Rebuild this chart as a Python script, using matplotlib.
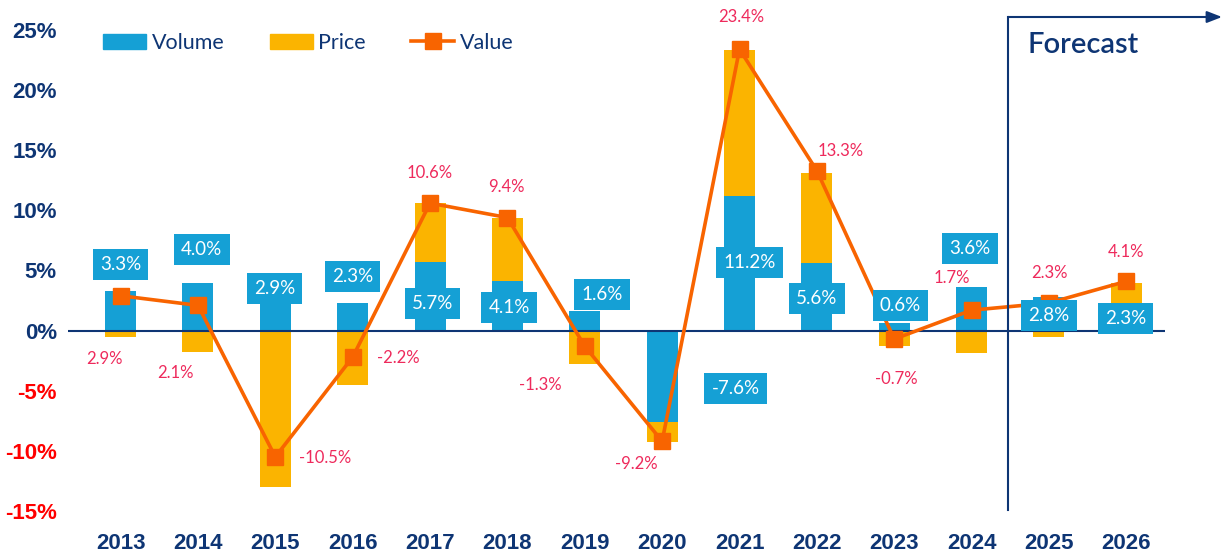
import matplotlib
matplotlib.use("Agg")
import matplotlib.pyplot as plt
from matplotlib.patches import Patch
from matplotlib.lines import Line2D
import numpy as np

years = ["2013", "2014", "2015", "2016", "2017", "2018", "2019",
         "2020", "2021", "2022", "2023", "2024", "2025", "2026"]
volume = [3.3, 4.0, 2.9, 2.3, 5.7, 4.1, 1.6, -7.6, 11.2, 5.6, 0.6, 3.6, 2.8, 2.3]
price = [-0.5, -1.8, -13.0, -4.5, 4.9, 5.3, -2.8, -1.7, 12.1, 7.5, -1.3, -1.9, -0.5, 1.7]
value = [2.9, 2.1, -10.5, -2.2, 10.6, 9.4, -1.3, -9.2, 23.4, 13.3, -0.7, 1.7, 2.3, 4.1]
yticks = [-15, -10, -5, 0, 5, 10, 15, 20, 25]

# label placement (data units), layout only
val_lab_pos = [(-0.21, -2.4), (0.71, -3.55), (2.65, -10.6), (3.59, -2.3), (3.99, 13.1),
               (4.99, 11.95), (5.42, -4.55), (6.67, -11.1), (8.02, 26.1), (9.31, 14.95),
               (10.03, -4.05), (10.74, 4.4), (12.0, 4.8), (13.0, 6.55)]
vol_lab_pos = [(0, 5.48), (1.05, 6.73), (1.99, 3.49), (3.0, 4.49), (4.03, 2.24),
               (5.02, 1.91), (6.22, 2.99), (7.95, -4.82), (8.13, 5.65), (9.0, 2.66),
               (10.08, 2.08), (10.98, 6.81), (12.0, 1.25), (12.99, 1.0)]

blue = "#15A0D5"
yellow = "#FBB400"
orange = "#F86400"
crimson = "#EE2A5C"
navy = "#0E3574"

plt.rcParams["font.family"] = ["Lato", "DejaVu Sans"]

fig = plt.figure(figsize=(12.22, 5.54), dpi=100)
ax = fig.add_axes([68 / 1222, 1 - 511 / 554, (1165 - 68) / 1222, (511 - 30) / 554])

x = np.arange(len(years))
w = 0.4
vol = np.array(volume)
pr = np.array(price)
bottom = np.where(np.sign(pr) == np.sign(vol), vol, 0)

ax.bar(x, vol, w, color=blue, zorder=2)
ax.bar(x, pr, w, bottom=bottom, color=yellow, zorder=2)
ax.axhline(0, color=navy, lw=1.5, zorder=3)
ax.plot(x, value, color=orange, lw=2.6, marker="s", markersize=12, zorder=4)

for i in range(len(years)):
    vx, vy = val_lab_pos[i]
    ax.text(vx, vy, f"{value[i]:.1f}%", color=crimson, fontsize=12,
            ha="center", va="center", zorder=5, clip_on=False)
    bx, by = vol_lab_pos[i]
    ax.text(bx, by, f"{volume[i]:.1f}%", color="white", fontsize=13.5,
            ha="center", va="center", zorder=6,
            bbox=dict(boxstyle="square,pad=0.38", fc=blue, ec="none"))

ax.set_xlim(-0.68, 13.5)
ax.set_ylim(-15, 25)
ax.set_xticks(x)
ax.set_xticklabels(years)
ax.set_yticks(yticks)
ax.set_yticklabels([f"{t}%" for t in yticks])
ax.tick_params(axis="both", length=0)
ax.tick_params(axis="x", pad=16)
ax.tick_params(axis="y", pad=8)
for lab in ax.get_xticklabels() + ax.get_yticklabels():
    lab.set_fontfamily(["Liberation Sans Narrow", "Liberation Sans"])
    lab.set_fontweight("bold")
    lab.set_fontsize(16)
    lab.set_color(navy)
for lab, t in zip(ax.get_yticklabels(), yticks):
    if t < 0:
        lab.set_color("#FF0000")
for s in ax.spines.values():
    s.set_visible(False)

# forecast bracket
fx = 1008 / 1222
fig.add_artist(Line2D([fx, fx], [1 - 17 / 554, 1 - 510 / 554], color=navy, lw=1.5))
ax.annotate("", xy=(1.0, 1 - 17 / 554), xytext=(fx, 1 - 17 / 554),
            xycoords="figure fraction", textcoords="figure fraction",
            arrowprops=dict(arrowstyle="-|>,head_length=0.9,head_width=0.35",
                            color=navy, lw=1.5, shrinkA=0, shrinkB=0))
fig.text(1027 / 1222, 1 - 45 / 554, "Forecast", color=navy, fontsize=21,
         fontweight="semibold", ha="left", va="center")

handles = [Patch(color=blue, label="Volume"), Patch(color=yellow, label="Price"),
           Line2D([], [], color=orange, lw=2.6, marker="s", markersize=12, label="Value")]
fig.legend(handles=handles, loc="center left", bbox_to_anchor=(84 / 1222, 1 - 43 / 554),
           ncol=3, frameon=False, fontsize=15.5, labelcolor=navy,
           handlelength=2.0, handleheight=0.75, handletextpad=0.25, columnspacing=2.1)

fig.savefig("out.png", dpi=100)
